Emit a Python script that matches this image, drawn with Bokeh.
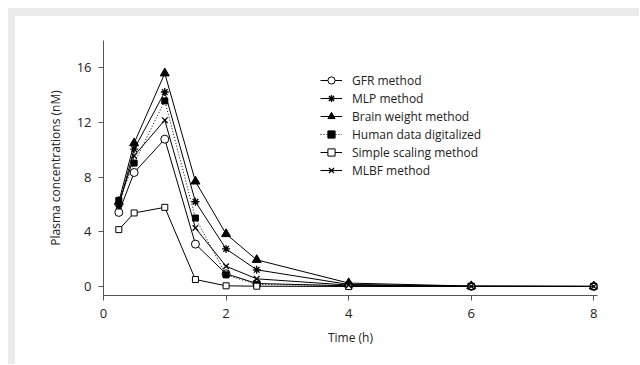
from bokeh.plotting import figure
from bokeh.models import Legend, LegendItem, Range1d, FixedTicker, Div, Column, Row
from bokeh.embed import file_html
from bokeh.resources import INLINE

time_h = [0.25, 0.5, 1, 1.5, 2, 2.5, 4, 6, 8]
gfr = [5.42, 8.34, 10.78, 3.10, 0.93, 0.22, 0.05, 0.01, 0.0]
mlp = [5.90, 10.05, 14.23, 6.20, 2.75, 1.22, 0.15, 0.02, 0.01]
brain = [6.20, 10.49, 15.60, 7.69, 3.84, 1.95, 0.25, 0.03, 0.01]
human = [6.30, 9.03, 13.58, 5.01, 0.85, 0.15, 0.05, 0.0, 0.0]
simple = [4.16, 5.38, 5.79, 0.51, 0.05, 0.02, 0.0, 0.0, 0.0]
mlbf = [6.00, 9.56, 12.17, 4.28, 1.48, 0.56, 0.10, 0.01, 0.0]
x_ticks = [0, 2, 4, 6, 8]
y_ticks = [0, 4, 8, 12, 16]

FONT = "Open Sans"
TXT = "#222222"
GRAY = "#ebebeb"

p = figure(width=624, height=348, output_backend="svg", toolbar_location=None,
           x_range=Range1d(0, 8.06), y_range=Range1d(-0.66, 18),
           min_border_left=88, min_border_right=42, min_border_top=24, min_border_bottom=69)
p.margin = 0
p.outline_line_color = None
p.grid.grid_line_color = None
p.background_fill_color = "white"
p.border_fill_color = "white"

for ax in (p.xaxis[0], p.yaxis[0]):
    ax.axis_line_color = "#555555"
    ax.major_tick_line_color = "#555555"
    ax.minor_tick_line_color = None
    ax.major_tick_in = 0
    ax.major_tick_out = 5
    ax.major_label_text_font = FONT
    ax.major_label_text_font_size = "13px"
    ax.major_label_text_color = TXT
    ax.axis_label_text_font = FONT
    ax.axis_label_text_font_size = "12px"
    ax.axis_label_text_font_style = "normal"
    ax.axis_label_text_color = TXT

p.xaxis[0].ticker = FixedTicker(ticks=x_ticks)
p.yaxis[0].ticker = FixedTicker(ticks=y_ticks)
p.xaxis[0].axis_label = "Time (h)"
p.yaxis[0].axis_label = "Plasma concentrations (nM)"
p.xaxis[0].major_label_standoff = 8
p.yaxis[0].major_label_standoff = 7
p.yaxis[0].axis_label_standoff = 10
p.xaxis[0].axis_label_standoff = 8

series = [
    ("GFR method", gfr, "circle", 8, "white", "solid"),
    ("MLP method", mlp, "asterisk", 8, "black", "solid"),
    ("Brain weight method", brain, "triangle", 9, "black", "solid"),
    ("Human data digitalized", human, "square", 6, "black", "1 2"),
    ("Simple scaling method", simple, "square", 6, "white", "solid"),
    ("MLBF method", mlbf, "x", 8, "black", "solid"),
]

items = []
for name, ys, marker, size, fill, dash in series:
    ln = p.line(time_h, ys, line_color="black", line_width=1, line_dash=dash)
    sc = p.scatter(time_h, ys, marker=marker, size=size, fill_color=fill,
                   line_color="black", line_width=1.3 if marker in ("asterisk", "x") else 1)
    items.append(LegendItem(label=name, renderers=[ln, sc]))

legend = Legend(items=items, location=(217, 116), border_line_color=None,
                background_fill_alpha=0, label_text_font=FONT, label_text_font_size="12px",
                label_text_color=TXT, glyph_width=22, glyph_height=18, label_height=18,
                spacing=0, padding=0, margin=0, label_standoff=10)
p.add_layout(legend, "center")

top_white = Div(width=631, height=8, margin=0)
left_white = Div(width=8, height=356, margin=0)
top_gray = Div(width=631, height=8, margin=0, styles={"background-color": GRAY})
left_gray = Div(width=7, height=348, margin=0, styles={"background-color": GRAY})

inner = Column(top_gray, Row(left_gray, p, spacing=0, margin=0), spacing=0, margin=0)
layout = Column(top_white, Row(left_white, inner, spacing=0, margin=0), spacing=0, margin=0)

open("out.html", "w").write(file_html(layout, INLINE))
